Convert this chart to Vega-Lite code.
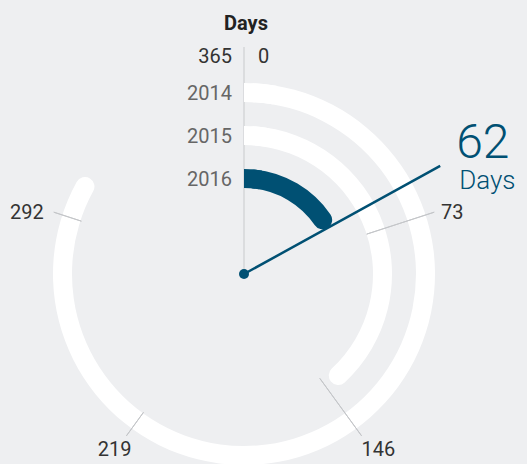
{
  "$schema": "https://vega.github.io/schema/vega-lite/v6.json",
  "width": 488,
  "height": 380,
  "autosize": {"type": "none"},
  "padding": {"left": 0, "top": 84, "right": 39, "bottom": 0},
  "background": "#eeeff1",
  "config": {"view": {"stroke": null}, "font": "Roboto"},
  "datasets": {
    "rings": [{"year": 2014, "days": 306}, {"year": 2015, "days": 143}, {"year": 2016, "days": 62}],
    "ticks": [{"day": 73}, {"day": 146}, {"day": 219}, {"day": 292}],
    "current": [{"day": 62}],
    "top0": [{"day": 0}],
    "top365": [{"day": 365}]
  },
  "layer": [
    {
      "data": {"name": "top0"},
      "mark": {"type": "arc", "filled": false, "stroke": "#cfd0d2", "strokeWidth": 1.2, "radius": 227, "radius2": 0},
      "encoding": {
        "theta": {"field": "day", "type": "quantitative", "scale": {"domain": [0, 365], "range": [0, 6.283185307179586]}, "stack": null},
        "theta2": {"field": "day"}
      }
    },
    {
      "data": {"name": "rings"},
      "mark": {"type": "arc", "cornerRadius": 9.5, "radiusOffset": 9.5, "radius2Offset": -9.5},
      "encoding": {
        "theta": {"field": "days", "type": "quantitative", "scale": {"domain": [0, 365], "range": [0, 6.283185307179586]}, "stack": null},
        "theta2": {"datum": 0},
        "radius": {"field": "year", "type": "quantitative", "scale": {"type": "linear", "domain": [2014, 2016], "range": [181.5, 95.5], "zero": false}},
        "radius2": {"field": "year"},
        "color": {"field": "year", "type": "nominal", "scale": {"domain": [2014, 2015, 2016], "range": ["#ffffff", "#ffffff", "#005073"]}, "legend": null}
      }
    },
    {
      "data": {"name": "rings"},
      "mark": {"type": "arc", "radiusOffset": 9.5, "radius2Offset": -9.5},
      "encoding": {
        "theta": {"datum": 0, "type": "quantitative", "scale": {"domain": [0, 365], "range": [0, 6.283185307179586]}, "stack": null},
        "theta2": {"datum": 10},
        "radius": {"field": "year", "type": "quantitative", "scale": {"type": "linear", "domain": [2014, 2016], "range": [181.5, 95.5], "zero": false}},
        "radius2": {"field": "year"},
        "color": {"field": "year", "type": "nominal", "scale": {"domain": [2014, 2015, 2016], "range": ["#ffffff", "#ffffff", "#005073"]}, "legend": null}
      }
    },
    {
      "data": {"name": "ticks"},
      "transform": [{"filter": "datum.day < 180"}],
      "mark": {"type": "arc", "filled": false, "stroke": "#c4c6c9", "strokeWidth": 1, "radius": 200, "radius2": 129},
      "encoding": {
        "theta": {"field": "day", "type": "quantitative", "scale": {"domain": [0, 365], "range": [0, 6.283185307179586]}, "stack": null},
        "theta2": {"field": "day"}
      }
    },
    {
      "data": {"name": "ticks"},
      "transform": [{"filter": "datum.day > 180"}],
      "mark": {"type": "arc", "filled": false, "stroke": "#c4c6c9", "strokeWidth": 1, "radius": 200, "radius2": 171},
      "encoding": {
        "theta": {"field": "day", "type": "quantitative", "scale": {"domain": [0, 365], "range": [0, 6.283185307179586]}, "stack": null},
        "theta2": {"field": "day"}
      }
    },
    {
      "data": {"name": "ticks"},
      "transform": [{"filter": "datum.day == 73"}],
      "mark": {"type": "text", "radius": 220, "fontSize": 20, "color": "#333333", "align": "center", "baseline": "middle", "dx": -1, "dy": 7},
      "encoding": {
        "theta": {"field": "day", "type": "quantitative", "scale": {"domain": [0, 365], "range": [0, 6.283185307179586]}, "stack": null},
        "text": {"field": "day", "type": "nominal"}
      }
    },
    {
      "data": {"name": "ticks"},
      "transform": [{"filter": "datum.day == 146"}],
      "mark": {"type": "text", "radius": 220, "fontSize": 20, "color": "#333333", "align": "center", "baseline": "middle", "dx": 5, "dy": -2},
      "encoding": {
        "theta": {"field": "day", "type": "quantitative", "scale": {"domain": [0, 365], "range": [0, 6.283185307179586]}, "stack": null},
        "text": {"field": "day", "type": "nominal"}
      }
    },
    {
      "data": {"name": "ticks"},
      "transform": [{"filter": "datum.day == 219"}],
      "mark": {"type": "text", "radius": 220, "fontSize": 20, "color": "#333333", "align": "center", "baseline": "middle", "dx": 0, "dy": -2},
      "encoding": {
        "theta": {"field": "day", "type": "quantitative", "scale": {"domain": [0, 365], "range": [0, 6.283185307179586]}, "stack": null},
        "text": {"field": "day", "type": "nominal"}
      }
    },
    {
      "data": {"name": "ticks"},
      "transform": [{"filter": "datum.day == 292"}],
      "mark": {"type": "text", "radius": 220, "fontSize": 20, "color": "#333333", "align": "center", "baseline": "middle", "dx": -8, "dy": 7},
      "encoding": {
        "theta": {"field": "day", "type": "quantitative", "scale": {"domain": [0, 365], "range": [0, 6.283185307179586]}, "stack": null},
        "text": {"field": "day", "type": "nominal"}
      }
    },
    {
      "data": {"name": "top0"},
      "mark": {"type": "text", "radius": 211, "fontSize": 20, "color": "#333333", "align": "left", "baseline": "alphabetic", "dx": 14},
      "encoding": {
        "theta": {"field": "day", "type": "quantitative", "scale": {"domain": [0, 365], "range": [0, 6.283185307179586]}, "stack": null},
        "text": {"field": "day", "type": "nominal"}
      }
    },
    {
      "data": {"name": "top365"},
      "mark": {"type": "text", "radius": 211, "fontSize": 20, "color": "#333333", "align": "right", "baseline": "alphabetic", "dx": -12},
      "encoding": {
        "theta": {"field": "day", "type": "quantitative", "scale": {"domain": [0, 365], "range": [0, 6.283185307179586]}, "stack": null},
        "text": {"field": "day", "type": "nominal"}
      }
    },
    {
      "data": {"name": "rings"},
      "mark": {"type": "text", "fontSize": 20, "color": "#666666", "align": "right", "baseline": "alphabetic", "dx": -12, "dy": 7},
      "encoding": {
        "theta": {"datum": 0, "type": "quantitative", "scale": {"domain": [0, 365], "range": [0, 6.283185307179586]}, "stack": null},
        "radius": {"field": "year", "type": "quantitative", "scale": {"type": "linear", "domain": [2014, 2016], "range": [181.5, 95.5], "zero": false}},
        "text": {"field": "year", "type": "nominal"}
      }
    },
    {
      "data": {"name": "top0"},
      "mark": {"type": "text", "radius": 244, "fontSize": 20, "fontWeight": "bold", "color": "#222222", "align": "center", "baseline": "alphabetic", "dx": 2},
      "encoding": {
        "theta": {"field": "day", "type": "quantitative", "scale": {"domain": [0, 365], "range": [0, 6.283185307179586]}, "stack": null},
        "text": {"value": "Days"}
      }
    },
    {
      "data": {"name": "current"},
      "mark": {"type": "arc", "filled": false, "stroke": "#005073", "strokeWidth": 2.5, "radius": 224, "radius2": 0},
      "encoding": {
        "theta": {"field": "day", "type": "quantitative", "scale": {"domain": [0, 365], "range": [0, 6.283185307179586]}, "stack": null},
        "theta2": {"field": "day"}
      }
    },
    {
      "data": {"name": "current"},
      "mark": {"type": "arc", "color": "#005073", "radius": 5, "radius2": 0},
      "encoding": {
        "theta": {"datum": 0, "type": "quantitative", "scale": {"domain": [0, 365], "range": [0, 6.283185307179586]}, "stack": null},
        "theta2": {"datum": 365}
      }
    },
    {
      "data": {"name": "current"},
      "mark": {"type": "text", "radius": 224, "fontSize": 48, "fontWeight": 300, "color": "#005073", "align": "left", "baseline": "alphabetic", "dx": 16, "dy": -8},
      "encoding": {
        "theta": {"field": "day", "type": "quantitative", "scale": {"domain": [0, 365], "range": [0, 6.283185307179586]}, "stack": null},
        "text": {"field": "day", "type": "nominal"}
      }
    },
    {
      "data": {"name": "current"},
      "mark": {"type": "text", "radius": 224, "fontSize": 26, "fontWeight": 300, "color": "#005073", "align": "left", "baseline": "alphabetic", "dx": 19, "dy": 23},
      "encoding": {
        "theta": {"field": "day", "type": "quantitative", "scale": {"domain": [0, 365], "range": [0, 6.283185307179586]}, "stack": null},
        "text": {"value": "Days"}
      }
    }
  ]
}
